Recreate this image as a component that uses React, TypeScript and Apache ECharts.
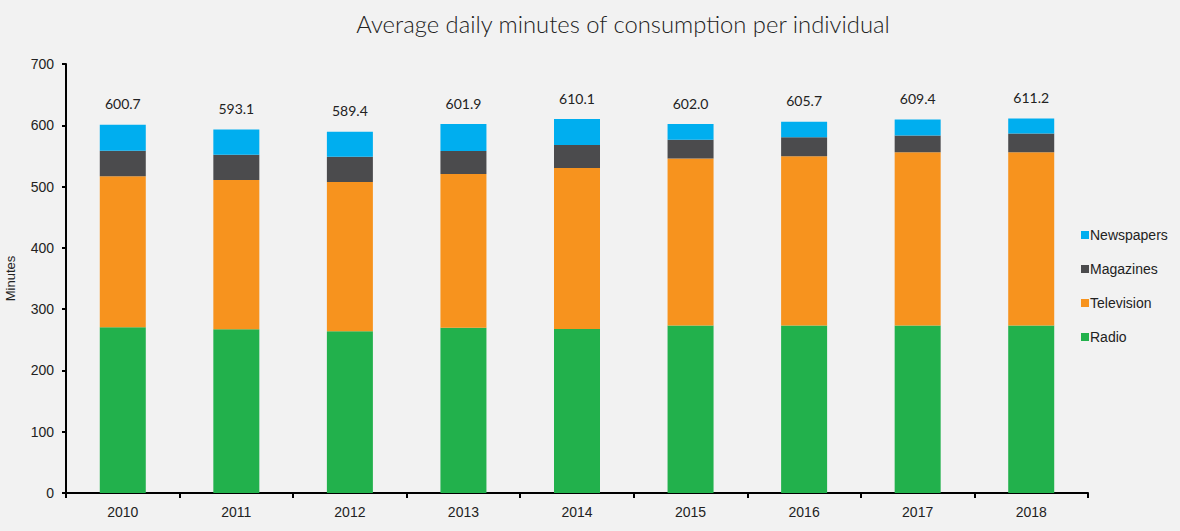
import React, { useEffect, useRef } from "react";
import * as echarts from "echarts";

const categories = ["2010", "2011", "2012", "2013", "2014", "2015", "2016", "2017", "2018"];
const radio = [270.5, 267, 264, 269.5, 267.5, 273.5, 273.5, 273.5, 273.5];
const television = [246.5, 243.7, 243.4, 251, 262.8, 272.5, 276, 282.5, 282.5];
const magazines = [41.5, 41.3, 41.4, 37.5, 37.5, 30.5, 31, 27.3, 30.5];
const newspapers = [42.2, 41.1, 40.6, 43.9, 42.3, 25.5, 25.2, 26.1, 24.7];
const totals = ["600.7", "593.1", "589.4", "601.9", "610.1", "602.0", "605.7", "609.4", "611.2"];

const colors = {
  Radio: "#22b14c",
  Television: "#f7931e",
  Magazines: "#4b4b4d",
  Newspapers: "#00aeef",
};

const axisFont = "'Liberation Sans', Arial, sans-serif";
const textFont = "Lato, 'Noto Sans', sans-serif";

export default function App() {
  const ref = useRef<HTMLDivElement>(null);
  useEffect(() => {
    document.body.style.margin = "0";
    document.body.style.background = "#f2f2f2";
    const chart = echarts.init(ref.current!, undefined, { renderer: "svg" });
    const mk = (name: string, data: number[], extra: any = {}) => ({
      name,
      type: "bar",
      stack: "total",
      data,
      barWidth: 46,
      itemStyle: { color: (colors as any)[name] },
      ...extra,
    });
    chart.setOption({
      animation: false,
      backgroundColor: "#f2f2f2",
      title: {
        text: "Average daily minutes of consumption per individual",
        left: 618,
        textAlign: "center",
        top: 7,
        textStyle: { fontFamily: textFont, fontSize: 23.8, fontWeight: 300, color: "#222" },
      },
      legend: {
        orient: "vertical",
        left: 1076,
        top: 223,
        itemWidth: 8,
        itemHeight: 8,
        itemGap: 20,
        icon: "rect",
        data: ["Newspapers", "Magazines", "Television", "Radio"],
        textStyle: { fontFamily: axisFont, fontSize: 14, color: "#222", padding: [0, 0, 0, -4] },
      },
      grid: { left: 66, right: 92, top: 64, bottom: 38, containLabel: false, outerBoundsMode: "none" },
      xAxis: {
        type: "category",
        data: categories,
        axisLine: { lineStyle: { color: "#000", width: 2 } },
        axisTick: { show: true, length: 5, lineStyle: { color: "#000", width: 2 } },
        axisLabel: { fontFamily: axisFont, fontSize: 14, color: "#222", margin: 12 },
      },
      yAxis: {
        type: "value",
        min: 0,
        max: 700,
        interval: 100,
        name: "Minutes",
        nameLocation: "middle",
        nameGap: 49,
        nameTextStyle: { fontFamily: axisFont, fontSize: 13, color: "#222" },
        axisLine: { show: true, lineStyle: { color: "#000", width: 2 } },
        axisTick: { show: true, length: 4, lineStyle: { color: "#000", width: 2 } },
        axisLabel: { fontFamily: axisFont, fontSize: 14, color: "#222", margin: 12 },
        splitLine: { show: false },
      },
      series: [
        mk("Radio", radio),
        mk("Television", television),
        mk("Magazines", magazines),
        mk("Newspapers", newspapers, {
          label: {
            show: true,
            position: "top",
            distance: 14,
            fontFamily: textFont,
            fontSize: 14,
            color: "#222",
            formatter: (p: any) => totals[p.dataIndex],
          },
        }),
      ],
    });
    return () => chart.dispose();
  }, []);
  return <div ref={ref} style={{ width: 1180, height: 531 }} />;
}
